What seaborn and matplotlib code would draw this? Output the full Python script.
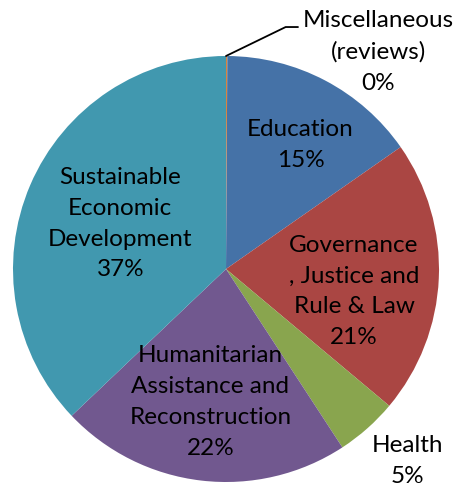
import numpy as np
import matplotlib
matplotlib.use("Agg")
import matplotlib.pyplot as plt
import seaborn as sns

# --- DATA ---
sectors = ["Miscellaneous\n(reviews)", "Education", "Governance\n, Justice and\nRule & Law",
           "Health", "Humanitarian\nAssistance and\nReconstruction",
           "Sustainable\nEconomic\nDevelopment"]
shares = [0.1, 15.2, 20.8, 4.7, 22.1, 37.1]
pct_labels = ["0%", "15%", "21%", "5%", "22%", "37%"]
colors = ["#DB843D", "#4572A7", "#AA4643", "#89A54E", "#71588F", "#4198AF"]

# label placement: (distance from centre in radii, angle from top in degrees or None = slice middle)
label_pos = [(1.245, 35.0), (0.68, 31.0), (0.61, 100.0), (1.24, 136.5), (0.63, None), (0.54, None)]

sns.set_theme(style="white")
plt.rcParams["font.family"] = ["Lato", "DejaVu Sans"]

fig = plt.figure(figsize=(4.59, 4.90), dpi=100)
ax = fig.add_axes([13 / 459, 8 / 490, 426 / 459, 426 / 490])

wedges, _ = ax.pie(shares, colors=colors, startangle=90, counterclock=False,
                   radius=1.0, wedgeprops=dict(linewidth=0))
ax.set_xlim(-1, 1)
ax.set_ylim(-1, 1)
ax.set_aspect("equal")
ax.axis("off")

for i, w in enumerate(wedges):
    dist, ang_top = label_pos[i]
    if ang_top is None:
        ang = np.deg2rad((w.theta1 + w.theta2) / 2)
    else:
        ang = np.deg2rad(90 - ang_top)
    x, y = dist * np.cos(ang), dist * np.sin(ang)
    ax.text(x, y, sectors[i] + "\n" + pct_labels[i], ha="center", va="center",
            fontsize=17.5, color="black", linespacing=1.58)

# leader line for the Miscellaneous slice
ax.plot([0.0, 0.28, 0.338], [1.0, 1.136, 1.136], color="black", lw=1.3, clip_on=False)

fig.savefig("out.png", dpi=100)
